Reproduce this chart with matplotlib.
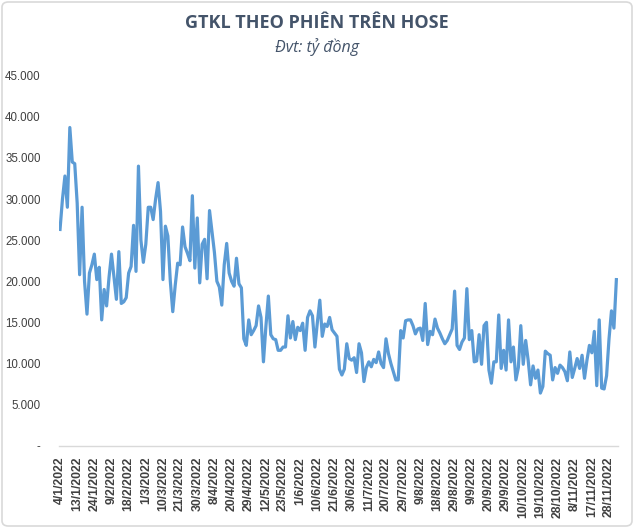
import matplotlib
matplotlib.use("Agg")
import matplotlib.pyplot as plt
from matplotlib.patches import FancyBboxPatch

# Daily trading value on HOSE (billion VND), one value per session, 4/1/2022 -> ~1/12/2022
values = [
    26300, 30000, 32800, 29000, 38700, 34500, 34300, 29500, 20800, 29000,
    20000, 16000, 21000, 22000, 23300, 20200, 21700, 15300, 19000, 17000,
    20500, 23300, 20500, 17800, 23600, 17300, 17500, 18000, 21000, 21800,
    26800, 21200, 34000, 25000, 22300, 24500, 29000, 29000, 27500, 30000,
    32000, 28500, 20200, 26700, 25500, 20000, 16300, 19500, 22200, 22000,
    26600, 24200, 23400, 22500, 30400, 21600, 27700, 19800, 24500, 25100,
    20300, 28600, 26000, 23500, 20000, 19300, 17100, 22000, 24600, 21000,
    20000, 19400, 22800, 19700, 19200, 13000, 12200, 15300, 13500, 14000,
    14600, 17000, 15600, 10200, 14500, 18200, 13500, 13000, 12900, 11600,
    11600, 12000, 12000, 15800, 13100, 15100, 12900, 14400, 14000, 14900,
    11600, 15600, 16400, 15800, 12000, 15000, 17700, 13300, 14800, 14500,
    15600, 14100, 13700, 13300, 9300, 8600, 9300, 12400, 10600, 10400,
    10700, 8900, 12400, 11300, 7800, 9500, 10200, 9600, 10500, 10100,
    11400, 10000, 9500, 13000, 11200, 10000, 9000, 8000, 8000, 14000,
    13100, 15200, 15300, 15300, 14600, 13600, 14200, 14300, 12800, 17300,
    12300, 13900, 13500, 15400, 14300, 13700, 13000, 12400, 12800, 13500,
    14200, 18800, 12200, 11700, 12600, 13100, 19100, 12900, 14000, 10200,
    10300, 13500, 9900, 14600, 15000, 9200, 7600, 10200, 10200, 15900,
    9400, 11600, 9200, 15300, 10200, 12000, 8000, 9500, 14600, 9900,
    12800, 10400, 7400, 9700, 8200, 9200, 6400, 7200, 11500, 11200,
    11000, 8000, 9500, 8800, 9800, 9500, 9000, 7900, 11400, 8300,
    9400, 10600, 9400, 11000, 8200, 10400, 12200, 11300, 13900, 7300,
    15300, 7000, 6900, 8500, 13000, 16400, 14300, 20200,
]

tick_labels = [
    "4/1/2022", "13/1/2022", "24/1/2022", "9/2/2022", "18/2/2022", "1/3/2022",
    "10/3/2022", "21/3/2022", "30/3/2022", "8/4/2022", "20/4/2022", "29/4/2022",
    "12/5/2022", "23/5/2022", "1/6/2022", "10/6/2022", "21/6/2022", "30/6/2022",
    "11/7/2022", "20/7/2022", "29/7/2022", "9/8/2022", "18/8/2022", "29/8/2022",
    "9/9/2022", "20/9/2022", "29/9/2022", "10/10/2022", "19/10/2022", "28/10/2022",
    "8/11/2022", "17/11/2022", "28/11/2022",
]
tick_step = 7

y_ticks = [0, 5000, 10000, 15000, 20000, 25000, 30000, 35000, 40000, 45000]

def fmt(v):
    return "-" if v == 0 else f"{v:,}".replace(",", ".")

W, H = 634, 528
fig = plt.figure(figsize=(W / 100, H / 100), dpi=100)
fig.patch.set_facecolor("white")

# outer border
fig.patches.append(FancyBboxPatch((2 / W, 2 / H), 1 - 4 / W, 1 - 4 / H,
                                  boxstyle="round,pad=0,rounding_size=0.01",
                                  transform=fig.transFigure, fill=False,
                                  edgecolor="#d9d9d9", linewidth=1.2))

left, right = 58.8 / W, 617.6 / W
bottom, top = 1 - 445.7 / H, 1 - 75.7 / H
ax = fig.add_axes([left, bottom, right - left, top - bottom])

x = list(range(len(values)))
ax.plot(x, values, color="#5b9bd5", linewidth=2.3, solid_joinstyle="round")

ax.set_xlim(-0.5, len(values) - 0.5)
ax.set_ylim(0, 45000)

ax.set_yticks(y_ticks)
ax.set_yticklabels([fmt(v) for v in y_ticks], fontsize=8.3, color="#404040",
                   family="Liberation Sans")
tick_pos = [i * tick_step for i in range(len(tick_labels))]
ax.set_xticks(tick_pos)
ax.set_xticklabels(tick_labels, rotation=90, fontsize=8.8, color="#404040",
                   family="Liberation Sans", fontweight="bold")

ax.tick_params(axis="both", length=0)
ax.tick_params(axis="y", pad=13)
ax.tick_params(axis="x", pad=8)
for s in ["top", "right", "left"]:
    ax.spines[s].set_visible(False)
ax.spines["bottom"].set_color("#d9d9d9")
ax.spines["bottom"].set_linewidth(1.0)

fig.text(0.5, 1 - 23 / H, "GTKL THEO PHIÊN TRÊN HOSE", ha="center", va="center",
         fontsize=13, fontweight="bold", color="#44546a", family="Open Sans")
fig.text(0.5, 1 - 47 / H, "Đvt: tỷ đồng", ha="center", va="center",
         fontsize=11.5, style="italic", color="#44546a", family="Open Sans")

fig.savefig("out.png", dpi=100, facecolor="white")
